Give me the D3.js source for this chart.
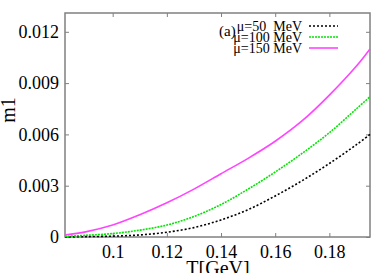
<!DOCTYPE html>
<meta charset="utf-8">
<script src="https://d3js.org/d3.v7.min.js"></script>
<style>
  body { margin: 0; background: #fff; }
  text { font-family: "Liberation Serif", "DejaVu Serif", serif; }
</style>
<div id="my_dataviz"></div>
<script>
// temperatures (GeV) and m1 values
var temps = [0.0824, 0.09, 0.10, 0.11, 0.12, 0.13, 0.14, 0.15, 0.16, 0.17, 0.18, 0.19, 0.195];
var mu50  = [0.0, 0.00002, 0.00005, 0.00012, 0.00028, 0.00055, 0.0010, 0.0016, 0.0024, 0.0033, 0.0043, 0.0054, 0.006];
var mu100 = [0.00003, 0.0001, 0.0002, 0.0004, 0.0007, 0.0012, 0.0019, 0.0028, 0.0038, 0.0049, 0.0061, 0.0075, 0.0082];
var mu150 = [0.00012, 0.0003, 0.0007, 0.0013, 0.0020, 0.0028, 0.0037, 0.0046, 0.0056, 0.0068, 0.0083, 0.0100, 0.0110];
var seriesNames = ["\u03bc=50  MeV", "\u03bc=100 MeV", "\u03bc=150 MeV"];
var xTicks = [0.1, 0.12, 0.14, 0.16, 0.18];
var yTicks = [0, 0.003, 0.006, 0.009, 0.012];

var W = 389, H = 273;
var margin = {top: 13, right: 19, bottom: 36, left: 65},
    width = W - margin.left - margin.right,
    height = H - margin.top - margin.bottom;

var svg = d3.select("#my_dataviz")
  .append("svg")
    .attr("width", W)
    .attr("height", H)
  .append("g")
    .attr("transform", "translate(" + margin.left + "," + margin.top + ")");

var x = d3.scaleLinear().domain([0.0824, 0.195]).range([0, width]);
var y = d3.scaleLinear().domain([0, 0.0131]).range([height, 0]);

var frameColor = "#808080";

// axes with inward ticks on all sides
function styleAxis(g) {
  g.select(".domain").remove();
  g.selectAll(".tick line").attr("stroke", frameColor).attr("stroke-width", 1);
  g.selectAll(".tick text").attr("fill", "#000").style("font-size", "18px")
    .style("font-family", "Liberation Serif, serif");
}
svg.append("g")
  .attr("transform", "translate(0," + height + ")")
  .call(d3.axisBottom(x).tickValues(xTicks).tickSizeInner(-4).tickPadding(8)
        .tickFormat(d3.format("")))
  .call(styleAxis);
svg.append("g")
  .call(d3.axisTop(x).tickValues(xTicks).tickSizeInner(-4).tickFormat(""))
  .call(styleAxis);
svg.append("g")
  .call(d3.axisLeft(y).tickValues(yTicks).tickSizeInner(-4).tickPadding(6)
        .tickFormat(function(d) { return d === 0 ? "0" : d3.format(".3f")(d); }))
  .call(styleAxis);
svg.append("g")
  .attr("transform", "translate(" + width + ",0)")
  .call(d3.axisRight(y).tickValues(yTicks).tickSizeInner(-4).tickFormat(""))
  .call(styleAxis);

// frame
svg.append("rect")
  .attr("width", width).attr("height", height)
  .attr("fill", "none").attr("stroke", frameColor).attr("stroke-width", 1.5);

// curves
var series = [
  {name: seriesNames[0], values: mu50,  color: "#000000", dash: "2,2"},
  {name: seriesNames[1], values: mu100, color: "#00e600", dash: "2,1"},
  {name: seriesNames[2], values: mu150, color: "#ff44ff", dash: null}
];
var line = d3.line()
  .x(function(d) { return x(d[0]); })
  .y(function(d) { return y(d[1]); })
  .curve(d3.curveCatmullRom);

svg.selectAll(".curve")
  .data(series)
  .enter().append("path")
    .attr("class", "curve")
    .attr("d", function(s) { return line(temps.map(function(t, i) { return [t, s.values[i]]; })); })
    .attr("fill", "none")
    .attr("stroke", function(s) { return s.color; })
    .attr("stroke-width", 1.6)
    .attr("stroke-dasharray", function(s) { return s.dash; });

// legend
var legend = svg.append("g");
series.forEach(function(s, i) {
  var ly = 13 + i * 11;
  legend.append("text")
    .attr("x", 237).attr("y", ly + 5)
    .attr("text-anchor", "end")
    .style("font-size", "14px")
    .style("white-space", "pre")
    .text(s.name);
  legend.append("line")
    .attr("x1", 244).attr("x2", 273)
    .attr("y1", ly).attr("y2", ly)
    .attr("stroke", s.color).attr("stroke-width", 1.6)
    .attr("stroke-dasharray", s.dash);
});
legend.append("text")
  .attr("x", 154).attr("y", 23)
  .style("font-size", "15px")
  .text("(a)");

// axis titles
svg.append("text")
  .attr("transform", "translate(" + (-50) + "," + (height / 2 - 15) + ") rotate(-90)")
  .attr("text-anchor", "middle")
  .style("font-size", "20px")
  .text("m1");
svg.append("text")
  .attr("x", x(0.14) - 3).attr("y", height + 38)
  .attr("text-anchor", "middle")
  .style("font-size", "20px")
  .text("T[GeV]");
</script>
